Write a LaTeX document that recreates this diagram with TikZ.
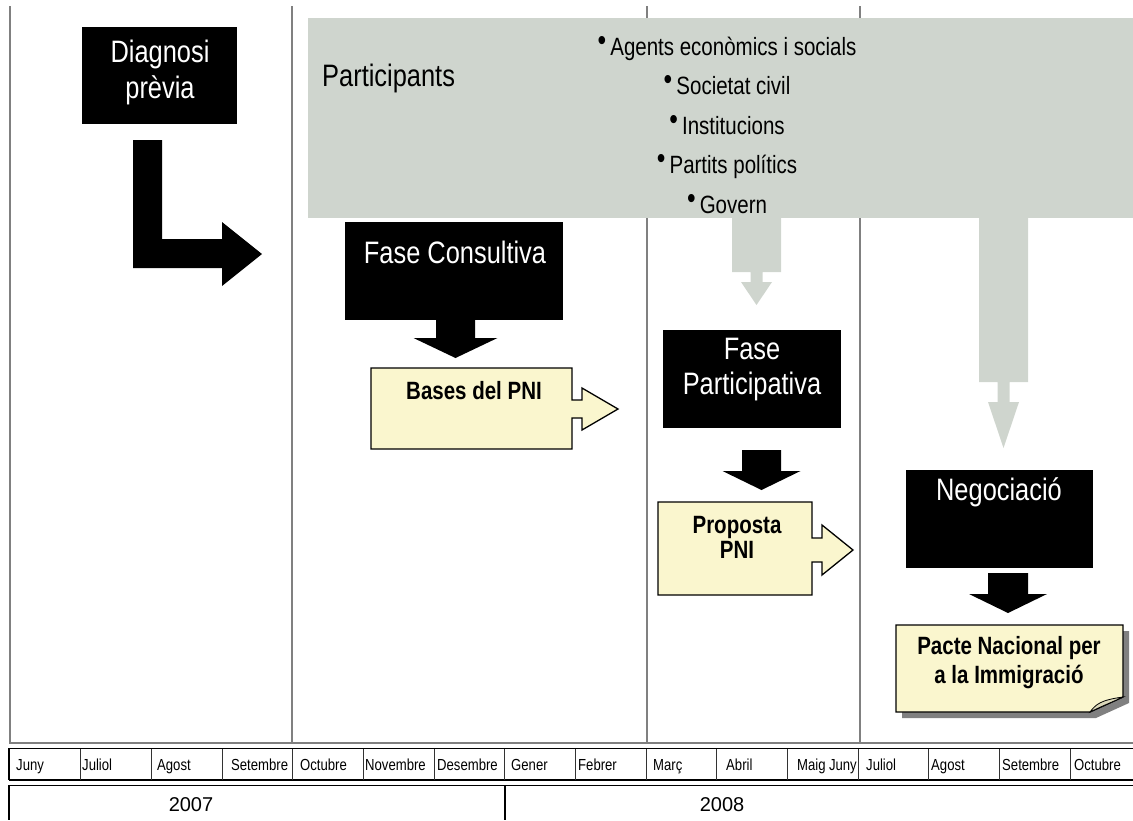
\documentclass[tikz,border=0pt]{standalone}
\usepackage{fontspec}
\setmainfont{Liberation Sans}[FakeStretch=0.82]
\newfontfamily\yearfont{Liberation Sans}

\definecolor{gridgray}{RGB}{128,128,128}
\definecolor{partgray}{RGB}{207,213,206}
\definecolor{noteyellow}{RGB}{250,246,206}

% bullet of the participants list
\newcommand{\blt}{\raisebox{5pt}{\fontsize{30}{30}\selectfont •}\,}
% black block arrow pointing down: x, top, half shaft, shaft, half head, head
\newcommand{\phasearrow}[6]{\fill (#1,#2) ++(-#3,0) -- ++(2*#3,0) -- ++(0,#4)
 -- ++(#5-#3,0) -- ++(-#5,#6) -- ++(-#5,-#6) -- ++(#5-#3,0) -- cycle;}
% grey stepped arrow out of the participants box: x, top, shaft, neck, head
\newcommand{\partarrow}[5]{\fill[partgray] (#1,#2) ++(-24.5,0) -- ++(49,0) -- ++(0,#3)
 -- ++(-18.5,0) -- ++(0,#4) -- ++(9.5,0) -- ++(-15.5,#5) -- ++(-15.5,-#5)
 -- ++(9.5,0) -- ++(0,-#4) -- ++(-18.5,0) -- cycle;}

\begin{document}
\begin{tikzpicture}[x=1pt,y=-1pt,
 phasebox/.style={fill=black,inner sep=0pt,anchor=north west},
 phasetext/.style={text=white,font=\fontsize{31}{36}\selectfont,align=center,inner sep=0pt},
 notebox/.style={fill=noteyellow,draw=black,line width=1.3pt,line join=miter},
 notetext/.style={font=\fontsize{25}{24}\selectfont\bfseries,align=center,inner sep=0pt},
 listtext/.style={font=\fontsize{25}{28}\selectfont,inner sep=0pt,anchor=base},
 monthtext/.style={font=\fontsize{16}{18}\selectfont,anchor=base west,inner sep=0pt},
 yeartext/.style={font=\yearfont\fontsize{20}{22}\selectfont,inner sep=0pt},
 gridline/.style={draw=gridgray,line width=1.5pt},
 tblline/.style={draw=black,line width=1.5pt},
 cellline/.style={draw=black!80,line width=0.8pt}]
\useasboundingbox (0,0) rectangle (1133,820);

% time columns
\draw[gridline] (10,6) -- (10,743) -- (1133,743);
\draw[gridline] (292,6) -- (292,743);
\draw[gridline] (647,6) -- (647,743);
\draw[gridline] (860,6) -- (860,743);

% participants
\node[fill=partgray,inner sep=0pt,anchor=north west,minimum width=825pt,minimum height=200pt] (part) at (308,18) {};
\node[listtext,font=\fontsize{31}{36}\selectfont,anchor=west] (parttxt) at (322,78) {Participants};
\node[listtext] (agents) at (727,55) {\blt Agents econòmics i socials};
\node[listtext] (societat) at (727,94.5) {\blt Societat civil};
\node[listtext] (institucions) at (727,134) {\blt Institucions};
\node[listtext] (partits) at (727,173.5) {\blt Partits polítics};
\node[listtext] (govern) at (727,213) {\blt Govern};
\partarrow{756.5}{218}{54}{10}{23}
\partarrow{1003.5}{218}{164}{20}{46}

% diagnosi
\node[phasebox,minimum width=155pt,minimum height=97pt] (diag) at (82,27) {};
\node[phasetext] (diagtxt) at (160,72) {Diagnosi\\prèvia};
\fill (133,140) -- (162,140) -- (162,239) -- (222,239) -- (222,222)
 -- (262,254) -- (222,286) -- (222,268) -- (133,268) -- cycle;

% fase consultiva
\node[phasebox,minimum width=218pt,minimum height=98pt] (cons) at (345,222) {};
\node[phasetext] (constxt) at (455,252) {Fase Consultiva};
\phasearrow{455.5}{320}{19.5}{18}{42}{20}
\draw[notebox] (371,368) -- (572,368) -- (572,400) -- (582,400) -- (582,388) -- (618,409)
 -- (582,430) -- (582,418) -- (572,418) -- (572,449) -- (371,449) -- cycle;
\node[notetext] (bases) at (474,391) {Bases del PNI};

% fase participativa
\node[phasebox,minimum width=178pt,minimum height=98pt] (fpart) at (663,330) {};
\node[phasetext,font=\fontsize{31}{35}\selectfont] (fparttxt) at (752,370) {Fase\\Participativa};
\phasearrow{761.5}{450}{19.5}{21}{39}{19}
\draw[notebox] (658,502) -- (812,502) -- (812,538) -- (822,538) -- (822,525) -- (853,550)
 -- (822,575) -- (822,562) -- (812,562) -- (812,595) -- (658,595) -- cycle;
\node[notetext,font=\fontsize{25}{25}\selectfont\bfseries] (proposta) at (737,537) {Proposta\\PNI};

% negociacio
\node[phasebox,minimum width=187pt,minimum height=98pt] (neg) at (906,470) {};
\node[phasetext] (negtxt) at (999,492) {Negociació};
\phasearrow{1008}{573}{20}{21}{39}{19}
\fill[gridgray] (902,631) -- (1129,631) -- (1129,703) -- (1096,718) -- (902,718) -- cycle;
\draw[notebox] (896,625) -- (1123,625) -- (1123,697) -- (1090,712) -- (896,712) -- cycle;
\draw[fill=noteyellow!75!gray,line width=0.8pt] (1090,712) .. controls (1096,704) and (1101,700) .. (1123,697)
 .. controls (1110,703) and (1100,707) .. (1090,712) -- cycle;
\node[notetext,font=\fontsize{25}{29}\selectfont\bfseries] (pacte) at (1009,663) {Pacte Nacional per\\a la Immigració};

% months
\draw[black,line width=0.8pt,double=white,double distance=1pt] (9,749) -- (1133,749);
\draw[tblline] (9,780) -- (1133,780);
\draw[tblline] (9,748) -- (9,780);
\draw[cellline] (80.7,749) -- (80.7,780) (151.3,749) -- (151.3,780) (222,749) -- (222,780)
 (292.6,749) -- (292.6,780) (363.3,749) -- (363.3,780) (434,749) -- (434,780)
 (504.6,749) -- (504.6,780) (575.3,749) -- (575.3,780) (646,749) -- (646,780)
 (716.6,749) -- (716.6,780) (787.3,749) -- (787.3,780) (858,749) -- (858,780)
 (928.6,749) -- (928.6,780) (999.3,749) -- (999.3,780) (1070,749) -- (1070,780);
\node[monthtext] (m1) at (16,770) {Juny};
\node[monthtext] (m2) at (82,770) {Juliol};
\node[monthtext] (m3) at (157,770) {Agost};
\node[monthtext] (m4) at (231,770) {Setembre};
\node[monthtext] (m5) at (300,770) {Octubre};
\node[monthtext] (m6) at (365,770) {Novembre};
\node[monthtext] (m7) at (437,770) {Desembre};
\node[monthtext] (m8) at (511,770) {Gener};
\node[monthtext] (m9) at (578,770) {Febrer};
\node[monthtext] (m10) at (653,770) {Març};
\node[monthtext] (m11) at (726,770) {Abril};
\node[monthtext] (m12) at (797,770) {Maig};
\node[monthtext,anchor=base east] (m13) at (857,770) {Juny};
\node[monthtext] (m14) at (866,770) {Juliol};
\node[monthtext] (m15) at (931,770) {Agost};
\node[monthtext] (m16) at (1002,770) {Setembre};
\node[monthtext] (m17) at (1074,770) {Octubre};

% years
\draw[black,line width=0.8pt,double=white,double distance=1pt] (9,786) -- (1133,786);
\draw[tblline] (9,785) -- (9,820);
\draw[tblline] (505,786) -- (505,820);
\node[yeartext] (y2007) at (191,805) {2007};
\node[yeartext] (y2008) at (722,805) {2008};
\end{tikzpicture}
\end{document}
